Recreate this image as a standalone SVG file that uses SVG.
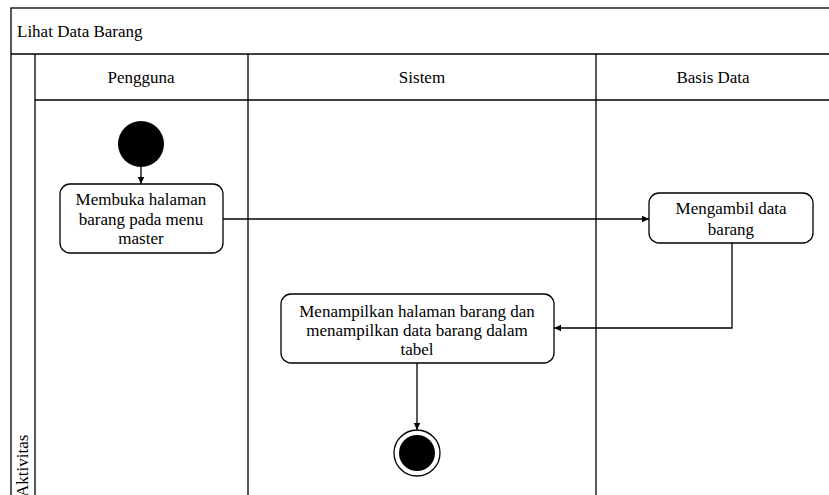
<svg xmlns="http://www.w3.org/2000/svg" width="829" height="495" viewBox="0 0 829 495">
<style>
.ln{stroke:#000;stroke-width:1.3;fill:none}
.node{fill:#fff;stroke:#000;stroke-width:1.3}
text{font-family:"Liberation Serif","Times New Roman","DejaVu Serif",serif;font-size:17px;fill:#000}
.c{text-anchor:middle}
</style>
<defs>
<marker id="ah" markerWidth="8" markerHeight="8" refX="7" refY="4" orient="auto" markerUnits="userSpaceOnUse">
<path d="M0,0.8 L7,4 L0,7.2 Z" fill="#000"/>
</marker>
</defs>
<rect width="829" height="495" fill="#fff"/>
<g id="frame">
<rect x="11" y="8" width="830" height="500" class="ln"/>
<line x1="11" y1="54" x2="829" y2="54" class="ln"/>
<line x1="35" y1="54" x2="35" y2="495" class="ln"/>
<line x1="248" y1="54" x2="248" y2="495" class="ln"/>
<line x1="596" y1="54" x2="596" y2="495" class="ln"/>
<line x1="35" y1="100" x2="829" y2="100" class="ln"/>
<text x="17" y="37">Lihat Data Barang</text>
<text x="141" y="83" class="c">Pengguna</text>
<text x="422" y="83" class="c">Sistem</text>
<text x="713" y="83" class="c">Basis Data</text>
<text transform="translate(28,497) rotate(-90)">Aktivitas</text>
</g>
<g id="connectors">
<line x1="141" y1="167" x2="141" y2="184" class="ln" marker-end="url(#ah)"/>
<line x1="223" y1="219" x2="649" y2="219" class="ln" marker-end="url(#ah)"/>
<polyline points="732,243 732,328 554,328" class="ln" marker-end="url(#ah)"/>
<line x1="417" y1="363" x2="417" y2="430" class="ln" marker-end="url(#ah)"/>
</g>
<g id="start">
<circle cx="141" cy="144" r="23" fill="#000"/>
</g>
<g id="n1">
<rect x="60" y="184" width="163" height="69" rx="10" class="node"/>
<text x="141" y="205" class="c">Membuka halaman</text>
<text x="141" y="225" class="c">barang pada menu</text>
<text x="141" y="244" class="c">master</text>
</g>
<g id="n2">
<rect x="649" y="193" width="164" height="50" rx="10" class="node"/>
<text x="731" y="214" class="c">Mengambil data</text>
<text x="731" y="235" class="c">barang</text>
</g>
<g id="n3">
<rect x="281" y="294" width="273" height="69" rx="10" class="node"/>
<text x="417" y="317" class="c">Menampilkan halaman barang dan</text>
<text x="417" y="336" class="c">menampilkan data barang dalam</text>
<text x="417" y="355" class="c">tabel</text>
</g>
<g id="end">
<circle cx="417" cy="453" r="23" fill="#fff" stroke="#000" stroke-width="1.3"/>
<circle cx="417" cy="453" r="18" fill="#000"/>
</g>
</svg>
